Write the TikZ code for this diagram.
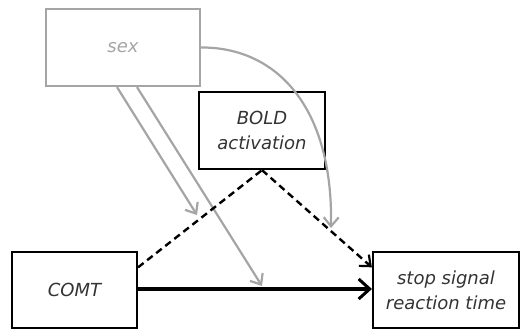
\documentclass[tikz,border=0pt]{standalone}
\usepackage{fontspec}
\setmainfont{DejaVu Sans}
\usetikzlibrary{arrows.meta,calc}
\definecolor{lgray}{RGB}{165,165,165}
\begin{document}
\begin{tikzpicture}[x=1pt,y=-1pt,
  box/.style={draw, line width=2.2pt, align=center, inner sep=0pt,
    font=\fontsize{18}{25}\selectfont\itshape, text=black!80},
  graybox/.style={box, draw=lgray, text=lgray},
  tip/.style={-{Straight Barb[length=9pt,width=15pt,line width=2.2pt]}},
  bigtip/.style={-{Straight Barb[length=11pt,width=20pt,line width=3pt]}},
  garrow/.style={tip, draw=lgray, line width=2.2pt},
  darrow/.style={line width=2.4pt, dash pattern=on 7pt off 4.5pt},
  marrow/.style={bigtip, line width=3.4pt}]
\useasboundingbox (0,0) rectangle (521,331);
\node[graybox, minimum width=154pt, minimum height=77pt] (sex) at (123,47.5) {sex};
\node[box, minimum width=126pt, minimum height=77pt] (bold) at (262,130.5) {BOLD\\activation};
\node[box, minimum width=125pt, minimum height=76pt] (comt) at (74.5,290) {COMT};
\node[box, minimum width=146pt, minimum height=76pt] (ssrt) at (446,290) {stop signal\\reaction time};
\coordinate (g1) at (197,215);
\coordinate (g2) at (262,286);
\coordinate (g3) at (331,228);
\draw[garrow] ([xshift=-6pt]sex.south) -- (g1);
\draw[garrow] ([xshift=14pt]sex.south) -- (g2);
\draw[garrow] (sex.east) .. controls (275,47) and (333,105) .. (g3);
\draw[darrow] ($(comt.north east)!0.21!(comt.south east)$) -- (bold.south);
\draw[darrow, tip] (bold.south) -- ($(ssrt.north west)!0.21!(ssrt.south west)$);
\draw[marrow] ([yshift=1pt]comt.east) -- ([yshift=1pt]ssrt.west);
\end{tikzpicture}
\end{document}
